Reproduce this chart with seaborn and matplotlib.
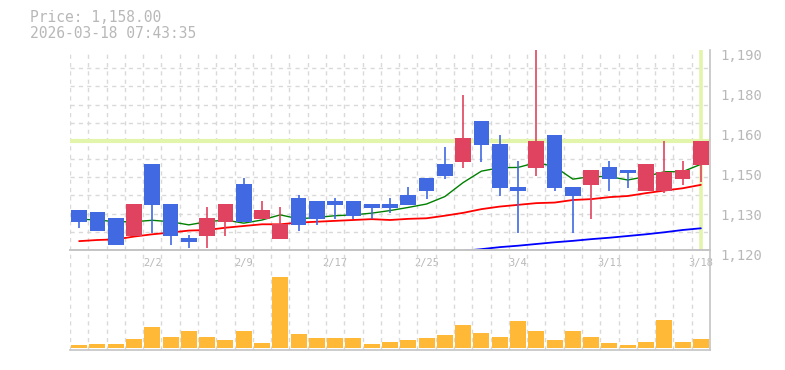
import matplotlib
matplotlib.use("Agg")
import matplotlib.pyplot as plt
import numpy as np
import seaborn as sns
from matplotlib.ticker import FixedLocator
from matplotlib.transforms import ScaledTranslation

# ---------------- data ----------------
opens  = [1134.0, 1133.3, 1131.2, 1124.9, 1150.1, 1136.1, 1124.2, 1124.9, 1129.9, 1143.1,
          1130.8, 1123.9, 1138.2, 1137.2, 1137.2, 1137.2, 1136.1, 1136.1, 1139.3, 1145.3,
          1150.1, 1150.9, 1165.2, 1157.1, 1142.2, 1148.8, 1160.3, 1142.2, 1142.8, 1149.1,
          1148.1, 1140.8, 1140.8, 1145.0, 1149.9]
highs  = [1134.0, 1133.3, 1131.2, 1136.1, 1150.1, 1136.1, 1125.3, 1135.2, 1136.1, 1145.3,
          1137.1, 1135.2, 1139.3, 1137.2, 1138.2, 1137.2, 1136.1, 1138.2, 1142.2, 1145.3,
          1156.2, 1174.3, 1165.2, 1160.3, 1151.3, 1190.0, 1160.3, 1142.2, 1148.1, 1151.3,
          1148.1, 1150.1, 1158.3, 1151.3, 1158.0]
lows   = [1127.8, 1126.6, 1121.8, 1124.9, 1125.8, 1121.7, 1120.7, 1120.7, 1124.9, 1129.9,
          1130.8, 1123.9, 1126.7, 1128.8, 1130.9, 1130.9, 1130.9, 1133.0, 1135.8, 1137.9,
          1145.0, 1148.8, 1150.9, 1139.0, 1126.1, 1146.0, 1140.8, 1126.1, 1131.0, 1140.8,
          1141.8, 1140.8, 1140.1, 1142.8, 1143.9]
closes = [1129.9, 1126.6, 1121.8, 1136.1, 1135.8, 1124.9, 1122.8, 1131.2, 1136.1, 1129.9,
          1134.0, 1129.1, 1128.8, 1130.9, 1135.8, 1131.9, 1134.8, 1134.8, 1135.8, 1140.8,
          1146.0, 1159.2, 1156.9, 1141.8, 1140.8, 1158.3, 1141.8, 1139.0, 1148.1, 1145.0,
          1147.1, 1150.1, 1147.4, 1148.1, 1158.0]
volume = [3, 4, 4, 9, 21, 11, 17, 11, 8, 17,
          5, 71.3, 14, 10, 10, 10, 4, 6, 8, 10,
          13, 23, 15, 11, 27, 17, 8, 17, 11, 5,
          3, 6, 28, 6, 9]
ma_short = [1130.8, 1130.5, 1129.9, 1129.9, 1130.4, 1129.9, 1128.8, 1129.9, 1130.5, 1129.4,
            1130.5, 1132.3, 1130.9, 1131.4, 1132.0, 1132.3, 1132.9, 1133.8, 1134.9, 1136.1,
            1138.7, 1143.6, 1147.6, 1148.8, 1148.9, 1150.6, 1149.2, 1144.8, 1145.7, 1145.7,
            1144.5, 1145.7, 1147.4, 1147.4, 1150.0]
ma_mid = [1123.1, 1123.5, 1123.7, 1124.7, 1125.5, 1126.1, 1126.8, 1127.0, 1127.8, 1128.4,
          1129.0, 1129.0, 1129.6, 1129.9, 1130.2, 1130.5, 1130.8, 1130.5, 1130.9, 1131.1,
          1132.0, 1133.0, 1134.3, 1135.2, 1135.8, 1136.4, 1136.6, 1137.5, 1137.8, 1138.5,
          1138.9, 1139.9, 1140.8, 1141.6, 1142.8]
ma_long = [np.nan] * 21 + [1119.7, 1120.3, 1121.0, 1121.5, 1122.1, 1122.7, 1123.2, 1123.8,
                           1124.3, 1124.9, 1125.5, 1126.2, 1127.0, 1127.6]
date_labels = ['2/2', '2/9', '2/17', '2/25', '3/4', '3/11', '3/18']
date_index = [4, 9, 14, 19, 24, 29, 34]
ytick_values = [1190, 1176, 1162, 1148, 1134, 1120]
ytick_labels = ['1,190', '1,180', '1,160', '1,150', '1,130', '1,120']
current_price = 1158.0
title_lines = ['Price: 1,158.00', '2026-03-18 07:43:35']

# ---------------- style ----------------
sns.set_theme(style="white")
plt.rcParams['font.family'] = ['DejaVu Sans Mono', 'DejaVu Sans']

BLUE = '#4169E1'
RED = '#E0435F'
VOL = '#FFB937'
HL = '#E2F5AA'
GRID = '#d9d9d9'
SPINE = '#c4c4c4'
TXT = '#b8b8b8'

W, H = 785, 370
fig = plt.figure(figsize=(W / 100, H / 100), dpi=100)
ax = fig.add_axes([70 / W, 1 - 250 / H, 640 / W, 200 / H])
axv = fig.add_axes([70 / W, 1 - 350 / H, 640 / W, 100 / H])
axv.set_facecolor('none')

x = np.arange(len(opens))
o = np.array(opens); c = np.array(closes)
cols = [RED if cc >= oo else BLUE for oo, cc in zip(o, c)]
body_bottom = np.minimum(o, c)
body_h = np.maximum(np.abs(c - o), 0.3)

# reference lines
ax.axhline(current_price, color=HL, lw=3, zorder=1.5)
ax.axvline(x[-1], color=HL, lw=2.6, zorder=1.5)

# moving averages
sns.lineplot(x=x, y=ma_mid, color='#ff0000', lw=1.3, ax=ax, zorder=2, estimator=None)
sns.lineplot(x=x, y=ma_short, color='#008000', lw=1.0, ax=ax, zorder=2, estimator=None)
lb = sns.lineplot(x=x, y=ma_long, color='#0000ff', lw=1.3, ax=ax, zorder=2, estimator=None)

# candles
ax.vlines(x, lows, highs, colors=cols, linewidth=1.2, zorder=3)
ax.bar(x, body_h, bottom=body_bottom, width=0.86, color=cols, linewidth=0, zorder=4)

ax.set_xlim(-0.5, len(x) - 0.5)
ax.set_ylim(1120, 1190)

# grid
ax.xaxis.set_minor_locator(FixedLocator(np.arange(-0.5, len(x), 1.0)))
ax.yaxis.set_minor_locator(FixedLocator(1120 + np.arange(12) * 70 / 11))
ax.grid(False, which='major')
ax.grid(True, which='minor', color=GRID, ls=(0, (3, 3)), lw=1)
ax.set_axisbelow(True)

ax.yaxis.tick_right()
ax.set_yticks(ytick_values)
ax.set_yticklabels(ytick_labels)
ax.set_xticks(date_index)
ax.set_xticklabels(date_labels)
ax.tick_params(axis='y', which='both', length=0, pad=7.5, labelsize=10, labelcolor=TXT)
ax.tick_params(axis='x', which='both', length=0, pad=5.5, labelsize=7.5, labelcolor=TXT)
for lab in ax.get_yticklabels():
    lab.set_transform(lab.get_transform() + ScaledTranslation(0, -3 / 72, fig.dpi_scale_trans))
ax.set_xlabel(''); ax.set_ylabel('')

for s in ['top', 'left']:
    ax.spines[s].set_visible(False)
for s in ['bottom', 'right']:
    ax.spines[s].set_color(SPINE)
    ax.spines[s].set_linewidth(1.2)

# volume
sns.barplot(x=x, y=volume, native_scale=True, color=VOL, saturation=1, width=0.87,
            linewidth=0, ax=axv, zorder=3)
axv.set_xlim(-0.5, len(x) - 0.5)
axv.set_ylim(-2, 98)
axv.xaxis.set_minor_locator(FixedLocator(np.arange(-0.5, len(x), 1.0)))
axv.set_xticks([])
axv.set_yticks([])
axv.grid(False, which='major')
axv.grid(True, which='minor', axis='x', color=GRID, ls=(0, (3, 3)), lw=1)
axv.set_axisbelow(True)
axv.tick_params(which='both', length=0, labelbottom=False, labelleft=False)
axv.set_xlabel(''); axv.set_ylabel('')
axv.spines['left'].set_visible(False)
for s in ['top', 'bottom', 'right']:
    axv.spines[s].set_color(SPINE)
    axv.spines[s].set_linewidth(1.2)

# header text
fig.text(30 / W, 1 - 17 / H, title_lines[0], va='center', ha='left', color=TXT, fontsize=10.5)
fig.text(30 / W, 1 - 33 / H, title_lines[1], va='center', ha='left', color=TXT, fontsize=10.5)

fig.savefig('out.png', dpi=100)
